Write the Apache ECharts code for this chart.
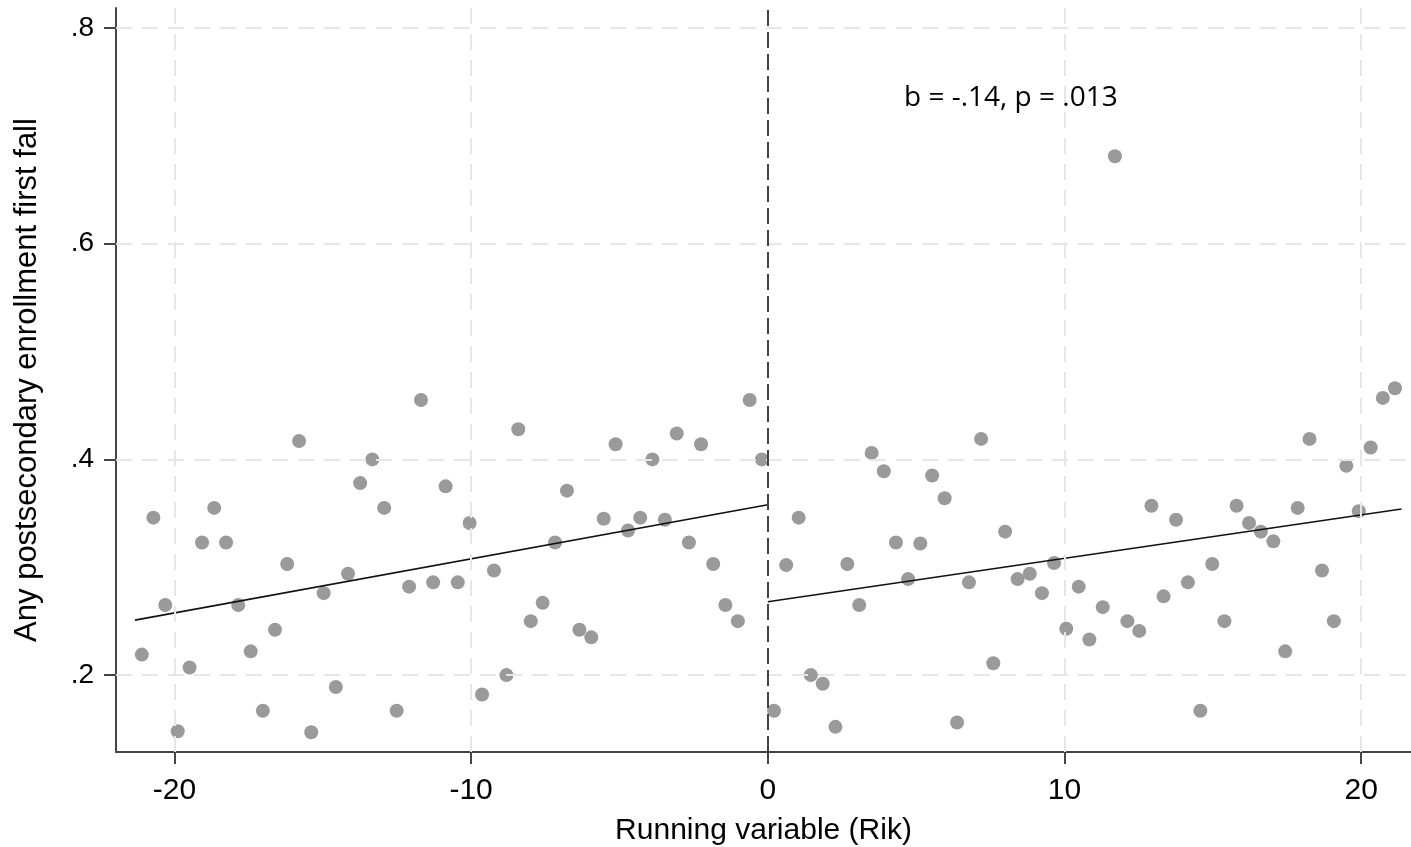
<!DOCTYPE html>
<html>
<head>
    <meta charset="utf-8">
    <script src="https://cdn.jsdelivr.net/npm/echarts@6/dist/echarts.min.js"></script>
    <style>
        html, body {margin: 0; padding: 0; background: #fff;}
    </style>
</head>
<body>
<div id="main" style="width: 1411px;height:847px;"></div>
<script type="text/javascript">
    // binned means
    var binX = [-21.10, -20.71, -20.31, -19.89, -19.49, -19.07, -18.66, -18.26, -17.85, -17.43,
        -17.02, -16.61, -16.20, -15.80, -15.39, -14.97, -14.56, -14.15, -13.74, -13.33,
        -12.93, -12.51, -12.09, -11.69, -11.28, -10.86, -10.45, -10.05, -9.63, -9.23,
        -8.81, -8.41, -7.99, -7.59, -7.17, -6.77, -6.35, -5.95, -5.53, -5.13,
        -4.71, -4.30, -3.89, -3.47, -3.07, -2.66, -2.25, -1.84, -1.43, -1.01,
        -0.61, -0.20,
        0.21, 0.62, 1.04, 1.45, 1.85, 2.28, 2.68, 3.08, 3.50, 3.91,
        4.32, 4.73, 5.14, 5.54, 5.96, 6.38, 6.78, 7.19, 7.60, 8.00,
        8.42, 8.83, 9.24, 9.65, 10.06, 10.48, 10.84, 11.29, 11.70, 12.12,
        12.52, 12.93, 13.34, 13.76, 14.16, 14.58, 14.98, 15.39, 15.80, 16.22,
        16.62, 17.04, 17.44, 17.86, 18.26, 18.68, 19.08, 19.50, 19.92, 20.32,
        20.73, 21.14];
    var binY = [0.219, 0.346, 0.265, 0.148, 0.207, 0.323, 0.355, 0.323, 0.265, 0.222,
        0.167, 0.242, 0.303, 0.417, 0.147, 0.276, 0.189, 0.294, 0.378, 0.400,
        0.355, 0.167, 0.282, 0.455, 0.286, 0.375, 0.286, 0.341, 0.182, 0.297,
        0.200, 0.428, 0.250, 0.267, 0.323, 0.371, 0.242, 0.235, 0.345, 0.414,
        0.334, 0.346, 0.400, 0.344, 0.424, 0.323, 0.414, 0.303, 0.265, 0.250,
        0.455, 0.400,
        0.167, 0.302, 0.346, 0.200, 0.192, 0.152, 0.303, 0.265, 0.406, 0.389,
        0.323, 0.289, 0.322, 0.385, 0.364, 0.156, 0.286, 0.419, 0.211, 0.333,
        0.289, 0.294, 0.276, 0.304, 0.243, 0.282, 0.233, 0.263, 0.681, 0.250,
        0.241, 0.357, 0.273, 0.344, 0.286, 0.167, 0.303, 0.250, 0.357, 0.341,
        0.333, 0.324, 0.222, 0.355, 0.419, 0.297, 0.250, 0.394, 0.352, 0.411,
        0.457, 0.466];

    // linear fits on each side of the cutoff
    var fitLeftX = [-21.33, 0];
    var fitLeftY = [0.251, 0.358];
    var fitRightX = [0, 21.36];
    var fitRightY = [0.268, 0.354];

    var xTicks = [-20, -10, 0, 10, 20];
    var yTicks = [0.2, 0.4, 0.6, 0.8];
    var xGrid = [-20, -10, 10, 20];
    var note = 'b = -.14, p = .013';

    function pairs(xs, ys) {
        var out = [];
        for (var i = 0; i < xs.length; i++) out.push([xs[i], ys[i]]);
        return out;
    }

    var gridLines = [];
    xGrid.forEach(function (v) { gridLines.push({xAxis: v}); });
    yTicks.forEach(function (v) { gridLines.push({yAxis: v}); });

    var myChart = echarts.init(document.getElementById('main'));
    var txt = '#000';
    var axisCol = '#444';
    myChart.setOption({
        animation: false,
        grid: {left: 116, right: 0, top: 8, bottom: 95, outerBoundsMode: 'none'},
        xAxis: {
            type: 'value',
            min: -21.97, max: 21.68,
            name: 'Running variable (Rik)',
            nameLocation: 'middle',
            nameGap: 64,
            nameTextStyle: {fontFamily: 'Liberation Sans', fontSize: 30, color: txt},
            axisLine: {onZero: false, lineStyle: {color: axisCol, width: 2}},
            axisTick: {show: true, length: 12, customValues: xTicks, lineStyle: {color: axisCol, width: 2}},
            axisLabel: {customValues: xTicks, margin: 24, fontFamily: 'Liberation Sans', fontSize: 30, color: txt},
            splitLine: {show: false}
        },
        yAxis: {
            type: 'value',
            min: 0.1287, max: 0.8185,
            name: 'Any postsecondary enrollment first fall',
            nameLocation: 'middle',
            nameGap: 73,
            nameTextStyle: {fontFamily: 'Liberation Sans', fontSize: 31, color: txt},
            axisLine: {show: true, onZero: false, lineStyle: {color: axisCol, width: 2}},
            axisTick: {show: true, length: 12, customValues: yTicks, lineStyle: {color: axisCol, width: 2}},
            axisLabel: {
                customValues: yTicks, margin: 22, fontFamily: 'Liberation Sans', fontSize: 28, color: txt,
                formatter: function (v) { return String(+v.toFixed(1)).replace(/^0/, ''); }
            },
            splitLine: {show: false}
        },
        graphic: [{
            type: 'text', left: 904, top: 84, z: 100,
            style: {text: note, fontFamily: 'Open Sans', fontSize: 28, fill: '#000'}
        }],
        series: [{
            type: 'line', data: [], z: 0, silent: true,
            markLine: {
                symbol: 'none', silent: true, label: {show: false},
                lineStyle: {color: '#e6e6e6', width: 2, type: [16, 10]},
                data: gridLines
            }
        }, {
            type: 'line', data: [], z: 1, silent: true,
            markLine: {
                symbol: 'none', silent: true, label: {show: false},
                lineStyle: {color: '#444', width: 2, type: [16, 6]},
                data: [{xAxis: 0}]
            }
        }, {
            type: 'scatter', z: 3,
            data: pairs(binX, binY),
            symbolSize: 14,
            itemStyle: {color: '#9a9a9a', opacity: 1}
        }, {
            type: 'line', z: 4, symbol: 'none',
            data: pairs(fitLeftX, fitLeftY),
            lineStyle: {color: '#111', width: 1.6}
        }, {
            type: 'line', z: 4, symbol: 'none',
            data: pairs(fitRightX, fitRightY),
            lineStyle: {color: '#111', width: 1.6}
        }]
    });
</script>
</body>
</html>
